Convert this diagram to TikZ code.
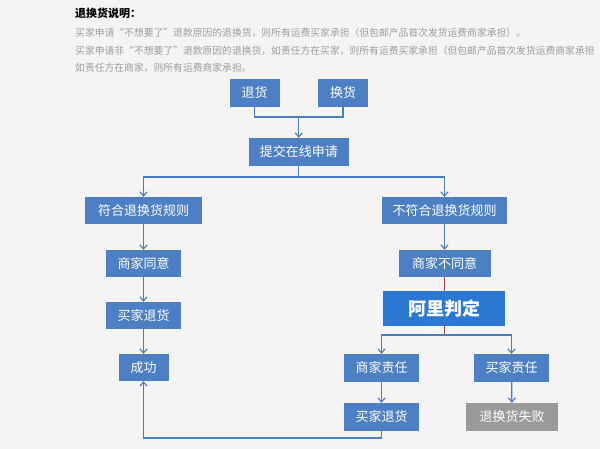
\documentclass[tikz,border=0pt]{standalone}
\usepackage{fontspec}
\newfontfamily\cjk{Noto Sans CJK SC}
\usetikzlibrary{arrows.meta}
\definecolor{bg}{HTML}{F4F4F4}
\definecolor{boxblue}{HTML}{4C7FC4}
\definecolor{alblue}{HTML}{2A78D2}
\definecolor{linkblue}{HTML}{4A7EBF}
\definecolor{failgray}{HTML}{9A9A9A}
\definecolor{txtgray}{HTML}{9C9C9C}
\definecolor{judgered}{HTML}{A83A3A}
\tikzset{
  box/.style={fill=boxblue, text=white, inner sep=0pt, font=\cjk\fontsize{13}{13}\selectfont, align=center},
  albox/.style={box, fill=alblue, font=\cjk\bfseries\fontsize{18}{18}\selectfont},
  failbox/.style={box, fill=failgray},
  link/.style={draw=linkblue, line width=1.3pt},
  arr/.style={link, -{Straight Barb[length=4pt,width=7pt,line width=1.2pt]}},
  redlink/.style={draw=judgered, line width=0.9pt},
  note/.style={anchor=west, inner sep=0pt, text=txtgray, font=\cjk\fontsize{9.8}{9.8}\selectfont},
  heading/.style={anchor=west, inner sep=0pt, text=black, font=\cjk\bfseries\fontsize{11}{11}\selectfont}
}
\begin{document}
\begin{tikzpicture}[x=1pt,y=-1pt]
\fill[bg] (0,0) rectangle (600,449);
\useasboundingbox (0,0) rectangle (600,449);

\node[heading] (title) at (75,13) {退换货说明：};
\node[note] (l1) at (75,33) {买家申请“不想要了”退款原因的退换货，则所有运费买家承担（但包邮产品首次发货运费商家承担）。};
\node[note] (l2) at (75,51) {买家申请非“不想要了”退款原因的退换货，如责任方在买家，则所有运费买家承担（但包邮产品首次发货运费商家承担};
\node[note] (l3) at (75,68) {如责任方在商家，则所有运费商家承担。};

\node[box, minimum width=50pt, minimum height=28pt] (th) at (254.5,93) {退货};
\node[box, minimum width=50pt, minimum height=28pt] (hh) at (343,93) {换货};
\node[box, minimum width=100pt, minimum height=28pt] (tj) at (298.75,152) {提交在线申请};
\node[box, minimum width=117pt, minimum height=27pt] (fh) at (143.5,210.5) {符合退换货规则};
\node[box, minimum width=125pt, minimum height=27pt] (bfh) at (444.5,210.5) {不符合退换货规则};
\node[box, minimum width=75pt, minimum height=27pt] (sjty) at (143.5,263.5) {商家同意};
\node[box, minimum width=75pt, minimum height=27pt] (mjth1) at (143.5,315.5) {买家退货};
\node[box, minimum width=50pt, minimum height=27pt] (cg) at (143.5,367.5) {成功};
\node[box, minimum width=92pt, minimum height=27pt] (sjbty) at (444.5,263.5) {商家不同意};
\node[albox, minimum width=122pt, minimum height=35pt] (al) at (444,308.5) {阿里判定};
\node[box, minimum width=75pt, minimum height=28pt] (sjzr) at (381.5,368) {商家责任};
\node[box, minimum width=75pt, minimum height=28pt] (mjzr) at (511.5,368) {买家责任};
\node[box, minimum width=75pt, minimum height=28pt] (mjth2) at (381.5,417) {买家退货};
\node[failbox, minimum width=92pt, minimum height=28pt] (sb) at (512,417) {退换货失败};

\coordinate (m1) at (tj.north |- 0,117);
\coordinate (m2) at (tj.south |- 0,177);
\coordinate (m3) at (al.south |- 0,335);
\coordinate (m4) at (mjth2.south |- 0,438);

\draw[link] (th.south) |- (m1) -| (hh.south);
\draw[arr] (m1) -- (tj.north);
\draw[link] (tj.south) -- (m2);
\draw[arr] (m2) -| (fh.north);
\draw[arr] (m2) -| (bfh.north);
\draw[arr] (fh) -- (sjty);
\draw[arr] (sjty) -- (mjth1);
\draw[arr] (mjth1) -- (cg);
\draw[arr] (bfh) -- (sjbty);
\draw[redlink] (sjbty.south) -- (sjbty.south |- al.north);
\draw[redlink] (al.south) -- (m3);
\draw[arr] (m3) -| (sjzr.north);
\draw[arr] (m3) -| (mjzr.north);
\draw[arr] (sjzr) -- (mjth2);
\draw[arr] (mjzr) -- (sb);
\draw[link] (mjth2.south) -- (m4);
\draw[arr] (m4) -| (cg.south);
\end{tikzpicture}
\end{document}
